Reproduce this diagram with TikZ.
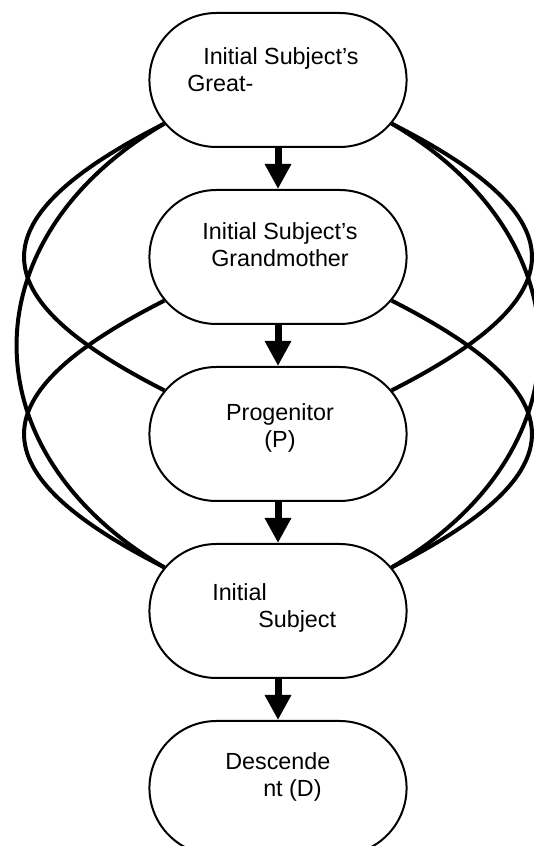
\documentclass[tikz,border=0pt]{standalone}
\usepackage{fontspec}
\setmainfont{Liberation Sans}
\usetikzlibrary{positioning, arrows.meta, shapes.misc}

\begin{document}
\begin{tikzpicture}[x=0.75pt, y=0.75pt, node distance=30.75pt,
        box/.style={draw, rounded rectangle, line width=1.5pt, fill=white, minimum width=199.5pt, minimum height=100.5pt},
        flow/.style={line width=5.25pt, -{Triangle[length=18.75pt, width=18.75pt]}},
        link/.style={line width=3pt},
        lbl/.style={inner sep=0pt, font=\fontsize{17.5}{20.5}\selectfont}]
        \useasboundingbox (0,0) rectangle (533,846);
        % Generations
        \node (n1) [box] at (278,766) {};
        \node (n2) [box, below=of n1] {};
        \node (n3) [box, below=of n2] {};
        \node (n4) [box, below=of n3] {};
        \node (n5) [box, below=of n4] {};
        % Labels
        \node (t1) [lbl, align=left, anchor=base west] at (187,754) {\hspace{12pt}Initial Subject’s\\Great-};
        \node (t2) [lbl, align=center, anchor=base] at (280,579) {Initial Subject’s\\Grandmother};
        \node (t3) [lbl, align=center, anchor=base] at (280,398) {Progenitor\\(P)};
        \node (t4) [lbl, align=left, anchor=base west] at (212,218) {Initial\\\hspace{34.5pt}Subject};
        \node (t5) [lbl, align=left, anchor=base west] at (225,49) {Descende\\\hspace{28.5pt}nt (D)};
        % Parent to child
        \draw[flow] (n1) -- (n2);
        \draw[flow] (n2) -- (n3);
        \draw[flow] (n3) -- (n4);
        \draw[flow] (n4) -- (n5);
        % Skipped generations, left side
        \draw[link] (n1.201) .. controls +(-187,-95) and +(-187,95) .. (n3.159);
        \draw[link] (n1.201) .. controls +(-197,-115) and +(-197,115) .. (n4.159);
        \draw[link] (n2.201) .. controls +(-187,-95) and +(-187,95) .. (n4.159);
        % Skipped generations, right side
        \draw[link] (n1.339) .. controls +(187,-95) and +(187,95) .. (n3.21);
        \draw[link] (n1.339) .. controls +(197,-115) and +(197,115) .. (n4.21);
        \draw[link] (n2.339) .. controls +(187,-95) and +(187,95) .. (n4.21);
    \end{tikzpicture}
\end{document}
